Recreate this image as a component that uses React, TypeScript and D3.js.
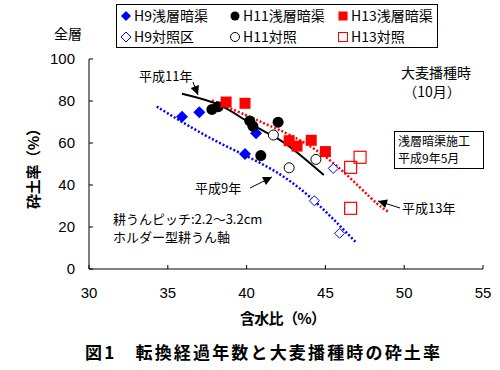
import * as d3 from 'd3';
import React from 'react';

type Pt = [number, number];

// 含水比(%), 砕土率(%)
const h9Drain: Pt[] = [[35.9, 72.5], [37.0, 74.6], [39.9, 54.8], [40.6, 64.6]];
const h11Drain: Pt[] = [[37.8, 76.0], [38.2, 77.3], [40.2, 70.5], [40.4, 68.0], [42.0, 69.9], [40.9, 54.0]];
const h13Drain: Pt[] = [[38.7, 79.5], [39.9, 78.9], [42.7, 61.1], [43.2, 58.5], [44.1, 61.3], [45.0, 55.9]];
const h9Ctrl: Pt[] = [[45.5, 47.9], [44.3, 32.5], [45.9, 17.0]];
const h11Ctrl: Pt[] = [[41.7, 63.8], [44.4, 52.2], [42.7, 48.2]];
const h13Ctrl: Pt[] = [[46.6, 48.4], [47.2, 53.2], [46.6, 28.9]];

// trend curves
const trend9: Pt[] = [[34.3, 77.3], [35.8, 70.5], [38.3, 60], [41.3, 48.7], [44, 34.4], [46.9, 13]];
const trend11: Pt[] = [[35.9, 83.5], [38.3, 78], [40.3, 69], [42, 62], [43.4, 54.3], [44.9, 44.8]];
const trend13: Pt[] = [[37.8, 80.3], [40.4, 71.8], [41.5, 68.1], [44.7, 55.1], [47.8, 34.4], [49, 27.3]];

const xTicks = [30, 35, 40, 45, 50, 55];
const yTicks = [0, 20, 40, 60, 80, 100];

const legendRow1 = ['H9浅層暗渠', 'H11浅層暗渠', 'H13浅層暗渠'];
const legendRow2 = ['H9対照区', 'H11対照', 'H13対照'];

const JP = '"Noto Sans CJK JP", sans-serif';
const NUM = '"Liberation Sans", Arial, sans-serif';
const BLUE = '#0000ff';
const RED = '#ff0000';

const x = d3.scaleLinear().domain([30, 55]).range([89, 483]);
const y = d3.scaleLinear().domain([0, 100]).range([269, 59]);

const line = d3.line<Pt>().x(d => x(d[0])).y(d => y(d[1])).curve(d3.curveNatural);

const Marker = ({ kind, cx, cy }: { kind: number; cx: number; cy: number }) => {
  switch (kind) {
    case 0:
      return <path d={`M${cx},${cy - 6}L${cx + 6},${cy}L${cx},${cy + 6}L${cx - 6},${cy}Z`} fill={BLUE} />;
    case 1:
      return <circle cx={cx} cy={cy} r={5.5} fill="#000" />;
    case 2:
      return <rect x={cx - 5.5} y={cy - 5.5} width={11} height={11} fill={RED} />;
    case 3:
      return <path d={`M${cx},${cy - 5}L${cx + 5},${cy}L${cx},${cy + 5}L${cx - 5},${cy}Z`} fill="#fff" stroke={BLUE} strokeWidth={1} />;
    case 4:
      return <circle cx={cx} cy={cy} r={5} fill="#fff" stroke="#000" strokeWidth={1} />;
    default:
      return <rect x={cx - 6} y={cy - 6} width={12} height={12} fill="none" stroke={RED} strokeWidth={1.2} />;
  }
};

const LegendMarker = ({ kind, cx, cy }: { kind: number; cx: number; cy: number }) => {
  switch (kind) {
    case 0:
      return <path d={`M${cx},${cy - 5}L${cx + 5},${cy}L${cx},${cy + 5}L${cx - 5},${cy}Z`} fill={BLUE} />;
    case 1:
      return <circle cx={cx} cy={cy} r={4.5} fill="#000" />;
    case 2:
      return <rect x={cx - 4.5} y={cy - 4.5} width={9} height={9} fill={RED} />;
    case 3:
      return <path d={`M${cx},${cy - 5}L${cx + 5},${cy}L${cx},${cy + 5}L${cx - 5},${cy}Z`} fill="#fff" stroke={BLUE} strokeWidth={1} />;
    case 4:
      return <circle cx={cx} cy={cy} r={4.5} fill="#fff" stroke="#000" strokeWidth={1} />;
    default:
      return <rect x={cx - 4.5} y={cy - 4.5} width={9} height={9} fill="none" stroke={RED} strokeWidth={1} />;
  }
};

export default function App() {
  const series = [h9Drain, h11Drain, h13Drain, h9Ctrl, h11Ctrl, h13Ctrl];
  const legendX = [126, 235, 343];
  return (
    <svg width={500} height={370} style={{ position: 'absolute', left: 0, top: 0, background: '#fff' }}>
      <defs>
        <marker id="arr" viewBox="0 0 10 10" refX={10} refY={5} markerWidth={10} markerHeight={9}
          markerUnits="userSpaceOnUse" orient="auto">
          <path d="M0,0L10,5L0,10Z" fill="#000" />
        </marker>
      </defs>

      {/* axes */}
      <line x1={x(30)} x2={x(55)} y1={y(0)} y2={y(0)} stroke="#000" />
      <line x1={x(30)} x2={x(30)} y1={y(0)} y2={y(100)} stroke="#000" />
      {xTicks.map(t => (
        <g key={'x' + t}>
          <line x1={x(t)} x2={x(t)} y1={y(0)} y2={y(0) - 4} stroke="#000" />
          <text x={x(t)} y={298} textAnchor="middle" fontFamily={NUM} fontSize={15}>{t}</text>
        </g>
      ))}
      {yTicks.map(t => (
        <g key={'y' + t}>
          <line x1={x(30)} x2={x(30) + 4} y1={y(t)} y2={y(t)} stroke="#000" />
          <text x={75} y={y(t) + 5} textAnchor="end" fontFamily={NUM} fontSize={15}>{t}</text>
        </g>
      ))}

      {/* trend lines */}
      <path d={line(trend9) ?? ''} fill="none" stroke={BLUE} strokeWidth={2.5} strokeDasharray="2,2" />
      <path d={line(trend13) ?? ''} fill="none" stroke={RED} strokeWidth={2.5} strokeDasharray="2,2" />
      <path d={line(trend11) ?? ''} fill="none" stroke="#000" strokeWidth={2} />

      {/* points */}
      {series.map((s, i) => s.map((d, j) => <Marker key={i + '-' + j} kind={i} cx={x(d[0])} cy={y(d[1])} />))}

      {/* annotations */}
      <text x={139} y={81} fontFamily={JP} fontSize={13}>平成11年</text>
      <line x1={193} y1={82} x2={198} y2={95} stroke="#000" markerEnd="url(#arr)" />
      <text x={195} y={193} fontFamily={JP} fontSize={13}>平成9年</text>
      <line x1={250} y1={188} x2={272} y2={177} stroke="#000" markerEnd="url(#arr)" />
      <text x={402} y={213} fontFamily={JP} fontSize={13}>平成13年</text>
      <line x1={400} y1={208} x2={378} y2={201} stroke="#000" markerEnd="url(#arr)" />

      <text x={436} y={78} textAnchor="middle" fontFamily={JP} fontSize={14}>大麦播種時</text>
      <text x={432} y={97} textAnchor="middle" fontFamily={JP} fontSize={14}>（10月）</text>

      <rect x={394.5} y={131.5} width={89} height={37} fill="#fff" stroke="#000" />
      <text x={398} y={146} fontFamily={JP} fontSize={12}>浅層暗渠施工</text>
      <text x={398} y={163} fontFamily={JP} fontSize={12}>平成9年5月</text>

      <text x={113} y={224} fontFamily={JP} fontSize={13}>耕うんピッチ:2.2〜3.2cm</text>
      <text x={113} y={242} fontFamily={JP} fontSize={13}>ホルダー型耕うん軸</text>

      <text x={68} y={39} textAnchor="middle" fontFamily={JP} fontSize={14}>全層</text>

      {/* legend */}
      <rect x={116.5} y={4.5} width={321} height={43} fill="#fff" stroke="#000" />
      {legendRow1.map((t, i) => (
        <g key={'l1' + i}>
          <LegendMarker kind={i} cx={legendX[i]} cy={16} />
          <text x={legendX[i] + 8} y={21} fontFamily={JP} fontSize={14}>{t}</text>
        </g>
      ))}
      {legendRow2.map((t, i) => (
        <g key={'l2' + i}>
          <LegendMarker kind={i + 3} cx={legendX[i]} cy={37} />
          <text x={legendX[i] + 8} y={42} fontFamily={JP} fontSize={14}>{t}</text>
        </g>
      ))}

      {/* axis titles */}
      <text x={283} y={324} textAnchor="middle" fontFamily={JP} fontSize={15} fontWeight="bold" textLength={86}>含水比（%）</text>
      <text transform="translate(39,165) rotate(-90)" textAnchor="middle" fontFamily={JP} fontSize={15} fontWeight="bold" textLength={88}>砕土率（%）</text>

      <text x={85} y={359} fontFamily={JP} fontSize={17} fontWeight="bold" textLength={355} lengthAdjust="spacing">図1　転換経過年数と大麦播種時の砕土率</text>
    </svg>
  );
}
